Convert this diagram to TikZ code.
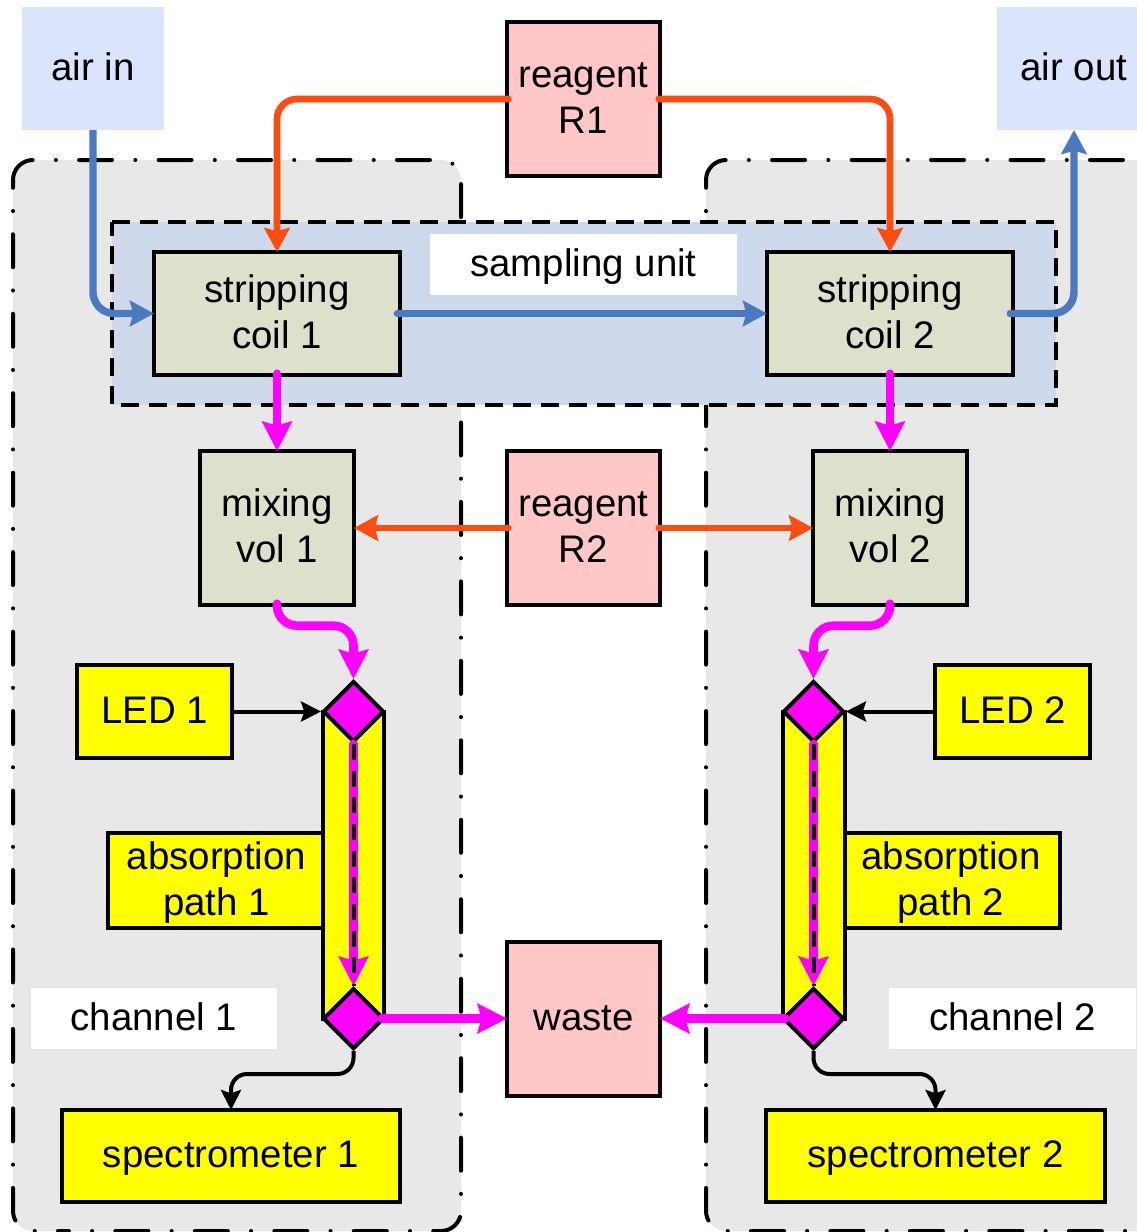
\documentclass[tikz,border=0pt]{standalone}
\usepackage{fontspec}
\setmainfont{Liberation Sans}
\usetikzlibrary{arrows.meta,shapes.geometric,calc}
\definecolor{airblue}{HTML}{DAE4FC}
\definecolor{pinkbox}{HTML}{FFC7C7}
\definecolor{coilbox}{HTML}{DDE1CB}
\definecolor{unitblue}{HTML}{CFD9EC}
\definecolor{panelgray}{HTML}{E8E8E8}
\definecolor{flowred}{HTML}{FC4C10}
\definecolor{flowblue}{HTML}{4A7ABF}
\definecolor{pureyellow}{HTML}{FFFF00}
\definecolor{puremagenta}{HTML}{FF00FF}
% struts that fix the baselines relative to the node centre
\newcommand\oneline[1]{\rule[-10pt]{0pt}{37.3pt}#1}
\newcommand\twolines[2]{\rule{0pt}{27.25pt}#1\\#2\rule[-10pt]{0pt}{10pt}}
\tikzset{
  size/.style 2 args={minimum width=#1*0.75pt,minimum height=#2*0.75pt},
  txt/.style={font=\fontsize{28.8}{34.5}\selectfont,align=center,inner sep=0pt,text=black},
  boxed/.style={txt,draw=black,line width=3pt,line join=miter,outer sep=0pt},
  air/.style={txt,fill=airblue,outer sep=0pt},
  reagentbox/.style={boxed,fill=pinkbox},
  coilnode/.style={boxed,fill=coilbox},
  optic/.style={boxed,fill=pureyellow},
  label/.style={txt,fill=white},
  jewel/.style={diamond,aspect=1,draw=black,fill=puremagenta,line width=3pt,inner sep=0pt,size={61}{61}},
  tube/.style={draw=black,fill=pureyellow,line width=3pt,inner sep=0pt,outer sep=0pt},
  panel/.style={draw=black,line width=3pt,line cap=round,rounded corners=15pt,
    dash pattern=on 24.75pt off 17.4pt on 0.05pt off 17.4pt},
  panelback/.style={panel,dash phase=20.4pt},
  unitframe/.style={draw=black,fill=unitblue,line width=3pt,dash pattern=on 13.5pt off 7.5pt},
  bluef/.style={draw=flowblue,line width=5.6pt,line cap=round,rounded corners=16pt,
    -{Stealth[length=18pt,width=19pt,inset=2.5pt]}},
  redf/.style={draw=flowred,line width=5pt,line cap=round,rounded corners=15pt,
    -{Stealth[length=18pt,width=19pt,inset=2.5pt]}},
  magf/.style={draw=puremagenta,line width=6.4pt,line cap=round,rounded corners=15pt,
    -{Stealth[length=22pt,width=22pt,inset=3pt]}},
  blackf/.style={draw=black,line width=3pt,rounded corners=12pt,
    -{Stealth[length=15pt,width=15pt,inset=2.5pt]}},
  beam/.style={draw=black,line width=3pt,dash pattern=on 12pt off 8pt},
}
\begin{document}
\begin{tikzpicture}[x=0.75pt,y=-0.75pt]
\path[use as bounding box,clip] (0,0) rectangle (1137,1232);
% panels
\coordinate (pl) at (13,182);
\coordinate (pr) at (706,182);
\fill[panelgray,rounded corners=15pt] (13,160) rectangle (461,1231);
\fill[panelgray,rounded corners=15pt] (706,160) rectangle (1190,1231);
\draw[panel] (pl) -- (13,160) -- (461,160) -- (461,1231) -- (60,1231);
\draw[panelback] (pl) -- (13,1231) -- (60,1231);
\draw[panel] (pr) -- (706,160) -- (1190,160);
\draw[panelback] (pr) -- (706,1231) -- (1190,1231);
% sampling unit
\path[unitframe] (112,222) -- (1056,222) -- (1056,405) -- (112,405) -- cycle;
\node[label,size={307}{61}] (unit) at (583.5,264.5) {\oneline{sampling unit}};
% sources
\node[air,size={142}{123}] (ain) at (93,68.5) {\oneline{air in}};
\node[air,size={154}{123}] (aout) at (1074,68.5) {\oneline{air out}};
\node[reagentbox,size={153}{154}] (r1) at (583.5,99) {\twolines{reagent}{R1}};
\node[reagentbox,size={153}{154}] (r2) at (583.5,528) {\twolines{reagent}{R2}};
\node[reagentbox,size={153}{154}] (waste) at (583.5,1018.5) {\oneline{waste}};
% coils and mixing
\node[coilnode,size={246}{123}] (c1) at (277,313.5) {\twolines{stripping}{coil 1}};
\node[coilnode,size={246}{123}] (c2) at (890,313.5) {\twolines{stripping}{coil 2}};
\node[coilnode,size={154}{154}] (m1) at (277,528) {\twolines{mixing}{vol 1}};
\node[coilnode,size={154}{154}] (m2) at (890,528) {\twolines{mixing}{vol 2}};
% optics
\node[optic,size={155}{93}] (led1) at (154.5,711.5) {\oneline{LED 1}};
\node[optic,size={155}{93}] (led2) at (1012.5,711.5) {\oneline{LED 2}};
\node[optic,size={217}{93}] (abs1) at (216.5,880.5) {\twolines{absorption}{path 1}};
\node[optic,size={217}{93}] (abs2) at (951,880.5) {\twolines{absorption}{path 2}};
\node[optic,size={338}{92}] (sp1) at (231,1156) {\oneline{spectrometer 1}};
\node[optic,size={339}{92}] (sp2) at (935.5,1156) {\oneline{spectrometer 2}};
\node[label,size={246}{61}] (ch1) at (154,1018.5) {\oneline{channel 1}};
\node[label,size={247}{61}] (ch2) at (1012.5,1018.5) {\oneline{channel 2}};
% prisms
\node[tube,size={61}{307}] (t1) at (353.5,865) {};
\node[tube,size={62}{307}] (t2) at (813.5,865) {};
\node[jewel] (d1) at (t1.north) {};
\node[jewel] (d2) at (t1.south) {};
\node[jewel] (d3) at (t2.north) {};
\node[jewel] (d4) at (t2.south) {};
% air flow
\draw[bluef,line cap=butt] (ain.south) |- (c1.west);
\draw[bluef] ([xshift=-2pt]c1.east) -- (c2.west);
\draw[bluef] ([xshift=-2pt]c2.east) -| (aout.south);
% reagent flow
\draw[redf] ([xshift=1pt]r1.west) -| (c1.north);
\draw[redf] ([xshift=-1pt]r1.east) -| (c2.north);
\draw[redf] ([xshift=1pt]r2.west) -- (m1.east);
\draw[redf] ([xshift=-1pt]r2.east) -- (m2.west);
% sample flow
\draw[magf] ([yshift=1pt]c1.south) -- (m1.north);
\draw[magf] ([yshift=1pt]c2.south) -- (m2.north);
\draw[magf] ([yshift=1pt]m1.south) -- ++(0,22) -| (d1.north);
\draw[magf] ([yshift=1pt]m2.south) -- ++(0,22) -| (d3.north);
\draw[magf] (d1.south) -- (d2.north);
\draw[magf] (d3.south) -- (d4.north);
\draw[beam] (d1.south) -- (d2.north);
\draw[beam] (d3.south) -- (d4.north);
\draw[magf] ([xshift=-3pt]d2.east) -- (waste.west);
\draw[magf] ([xshift=3pt]d4.west) -- (waste.east);
% light
\draw[blackf] (led1.east) -- (d1.west);
\draw[blackf] (led2.west) -- (d3.east);
\draw[blackf] (d2.south) -- ++(0,23) -| (sp1.north);
\draw[blackf] (d4.south) -- ++(0,23) -| (sp2.north);
\end{tikzpicture}
\end{document}
